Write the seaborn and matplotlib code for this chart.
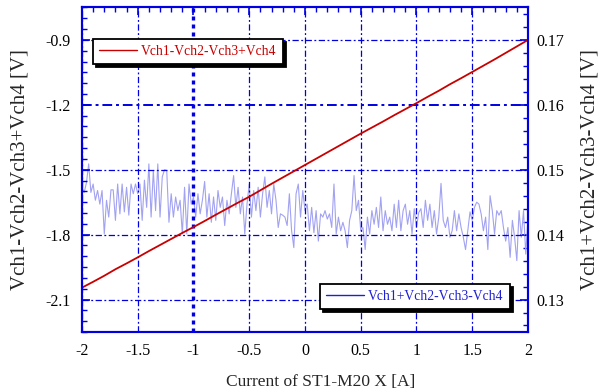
import numpy as np
import pandas as pd
import seaborn as sns
import matplotlib
matplotlib.use("Agg")
import matplotlib.pyplot as plt
from matplotlib.ticker import MultipleLocator, FixedLocator

# ---------------- data ----------------
current = np.round(np.arange(-2.0, 2.0001, 0.1), 2)
diff_red = [-2.045, -2.018, -1.990, -1.960, -1.933, -1.905, -1.876, -1.848, -1.820, -1.792,
            -1.765, -1.737, -1.708, -1.680, -1.652, -1.625, -1.595, -1.565, -1.536, -1.507,
            -1.478, -1.449, -1.420, -1.391, -1.362, -1.333, -1.305, -1.277, -1.248, -1.220,
            -1.192, -1.163, -1.135, -1.105, -1.077, -1.048, -1.019, -0.990, -0.960, -0.930,
            -0.900]

current_fine = np.round(np.arange(-2.0, 2.0001, 0.02), 2)
sum_blue = [
    0.1473, 0.1465, 0.1480, 0.1509, 0.1465, 0.1478, 0.1453, 0.1468, 0.1447, 0.1468,
    0.1401, 0.1453, 0.1427, 0.1469, 0.1469, 0.1422, 0.1478, 0.1432, 0.1478, 0.1435,
    0.1473, 0.1430, 0.1478, 0.1463, 0.1478, 0.1463, 0.1478, 0.1422, 0.1484, 0.1442,
    0.1509, 0.1427, 0.1499, 0.1437, 0.1509, 0.1427, 0.1489, 0.1500, 0.1499, 0.1419,
    0.1463, 0.1427, 0.1458, 0.1437, 0.1453, 0.1401, 0.1473, 0.1401, 0.1478, 0.1447,
    0.1458, 0.1427, 0.1463, 0.1432, 0.1453, 0.1482, 0.1427, 0.1463, 0.1419, 0.1458,
    0.1422, 0.1468, 0.1442, 0.1458, 0.1414, 0.1453, 0.1432, 0.1463, 0.1491, 0.1442,
    0.1473, 0.1432, 0.1458, 0.1401, 0.1447, 0.1478, 0.1427, 0.1468, 0.1437, 0.1473,
    0.1427, 0.1463, 0.1489, 0.1442, 0.1468, 0.1432, 0.1478, 0.1453, 0.1411, 0.1432,
    0.1430, 0.1427, 0.1414, 0.1463, 0.1406, 0.1380, 0.1463, 0.1478, 0.1427, 0.1468,
    0.1437, 0.1447, 0.1406, 0.1442, 0.1403, 0.1437, 0.1390, 0.1432, 0.1427, 0.1437,
    0.1424, 0.1432, 0.1411, 0.1478, 0.1401, 0.1427, 0.1406, 0.1419, 0.1406, 0.1380,
    0.1422, 0.1437, 0.1491, 0.1437, 0.1453, 0.1406, 0.1411, 0.1377, 0.1427, 0.1401,
    0.1437, 0.1416, 0.1442, 0.1411, 0.1458, 0.1406, 0.1437, 0.1416, 0.1427, 0.1406,
    0.1447, 0.1411, 0.1453, 0.1406, 0.1437, 0.1447, 0.1416, 0.1437, 0.1401, 0.1440,
    0.1411, 0.1434, 0.1440, 0.1411, 0.1453, 0.1422, 0.1447, 0.1411, 0.1437, 0.1401,
    0.1427, 0.1479, 0.1422, 0.1411, 0.1427, 0.1396, 0.1406, 0.1437, 0.1406, 0.1432,
    0.1411, 0.1396, 0.1377, 0.1406, 0.1435, 0.1422, 0.1442, 0.1450, 0.1447, 0.1432,
    0.1406, 0.1427, 0.1377, 0.1460, 0.1437, 0.1401, 0.1437, 0.1430, 0.1437, 0.1411,
    0.1390, 0.1411, 0.1365, 0.1422, 0.1396, 0.1360, 0.1437, 0.1396, 0.1437, 0.1370,
    0.1427]

label_red = "Vch1-Vch2-Vch3+Vch4"
label_blue = "Vch1+Vch2-Vch3-Vch4"
x_label = "Current of ST1-M20 X [A]"
y_label_left = "Vch1-Vch2-Vch3+Vch4 [V]"
y_label_right = "Vch1+Vch2-Vch3-Vch4 [V]"
x_ticks = [-2, -1.5, -1, -0.5, 0, 0.5, 1, 1.5, 2]
x_tick_labels = ["-2", "-1.5", "-1", "-0.5", "0", "0.5", "1", "1.5", "2"]
yl_ticks = [-2.1, -1.8, -1.5, -1.2, -0.9]
yr_ticks = [0.13, 0.14, 0.15, 0.16, 0.17]

df_red = pd.DataFrame({"x": current, "y": diff_red})
df_blue = pd.DataFrame({"x": current_fine, "y": sum_blue})

# ---------------- style ----------------
sns.set_theme(style="white")
plt.rcParams["font.family"] = ["Liberation Serif", "DejaVu Serif"]
plt.rcParams["axes.unicode_minus"] = False

AXBLUE = "#0000e0"
RED = "#c80000"
LBLUE = "#a2a2f2"

fig = plt.figure(figsize=(6.05, 3.92), dpi=100)
ax = fig.add_axes([0.1355, 0.1531, 0.7372, 0.8278])
ax2 = ax.twinx()

sns.lineplot(data=df_blue, x="x", y="y", ax=ax2, color=LBLUE, lw=0.8,
             legend=False, errorbar=None, sort=False)
sns.lineplot(data=df_red, x="x", y="y", ax=ax, color=RED, lw=1.3,
             legend=False, errorbar=None, sort=False)

ax.set_zorder(ax2.get_zorder() + 1)
ax.patch.set_visible(False)

ax.set_xlim(-2, 2)
ax.set_ylim(-2.25, -0.75)
ax2.set_ylim(0.125, 0.175)

ax.xaxis.set_major_locator(FixedLocator(x_ticks))
ax.set_xticklabels(x_tick_labels)
ax.xaxis.set_minor_locator(MultipleLocator(0.1))
ax.yaxis.set_major_locator(FixedLocator(yl_ticks))
ax.set_yticklabels([f"{v:.1f}" for v in yl_ticks])
ax.yaxis.set_minor_locator(MultipleLocator(0.05))
ax2.yaxis.set_major_locator(FixedLocator(yr_ticks))
ax2.set_yticklabels([f"{v:.2f}" for v in yr_ticks])
ax2.yaxis.set_minor_locator(MultipleLocator(0.002))

for a in (ax, ax2):
    for s in a.spines.values():
        s.set_color(AXBLUE)
        s.set_linewidth(1.5)

ax.tick_params(axis="both", which="both", direction="in", color=AXBLUE,
               top=True, right=False, labelsize=11.5, labelcolor="black")
ax.tick_params(axis="both", which="major", length=6, width=1.2)
ax.tick_params(axis="both", which="minor", length=3.5, width=1.0)
ax.tick_params(axis="y", pad=8)
ax.tick_params(axis="x", pad=8)
ax2.tick_params(axis="y", which="both", direction="in", color=AXBLUE,
                labelsize=11.5, labelcolor="black", pad=6)
ax2.tick_params(axis="y", which="major", length=6, width=1.2)
ax2.tick_params(axis="y", which="minor", length=3.5, width=1.0)

ax.grid(True, which="major", color=AXBLUE, lw=0.9, linestyle=(0, (5, 2, 1.5, 2)))
ax2.grid(False)
# emphasise gridlines at x=-1 and y=-1.2
ax.get_xgridlines()[2].set_linewidth(2.4)
ax.get_xgridlines()[2].set_linestyle((0, (1.2, 1.2)))
ax.get_ygridlines()[3].set_linewidth(1.4)

ax.set_xlabel(x_label, fontsize=12.5)
ax.xaxis.set_label_coords(0.535, -0.128)
ax.set_ylabel(y_label_left, fontsize=15)
ax.yaxis.set_label_coords(-0.118, 0.5)
ax2.set_ylabel(y_label_right, fontsize=15, labelpad=12)

shadow = {"ox": 2, "oy": -2, "color": "black", "alpha": 1}
red_line = ax.get_lines()[0]
blue_line = ax2.get_lines()[0]
leg1 = ax.legend([red_line], [label_red], loc="upper left",
                 bbox_to_anchor=(0.0247, 0.903), borderaxespad=0, fancybox=False,
                 shadow=shadow, fontsize=9.8, handlelength=2.8, handletextpad=0.3,
                 framealpha=1, borderpad=0.45)
leg1.get_frame().set_edgecolor("black")
leg1.get_frame().set_linewidth(1.3)
leg1.get_texts()[0].set_color(RED)
leg1.get_lines()[0].set_linewidth(1.0)

leg2 = ax.legend([blue_line], [label_blue], loc="lower right",
                 bbox_to_anchor=(0.9596, 0.0709), borderaxespad=0, fancybox=False,
                 shadow=shadow, fontsize=9.8, handlelength=2.8, handletextpad=0.3,
                 framealpha=1, borderpad=0.45)
leg2.get_frame().set_edgecolor("black")
leg2.get_frame().set_linewidth(1.3)
leg2.get_texts()[0].set_color("#2020d0")
leg2.get_lines()[0].set_color("#2020d0")
leg2.get_lines()[0].set_linewidth(1.0)
ax.add_artist(leg1)

fig.savefig("out.png", dpi=100)
